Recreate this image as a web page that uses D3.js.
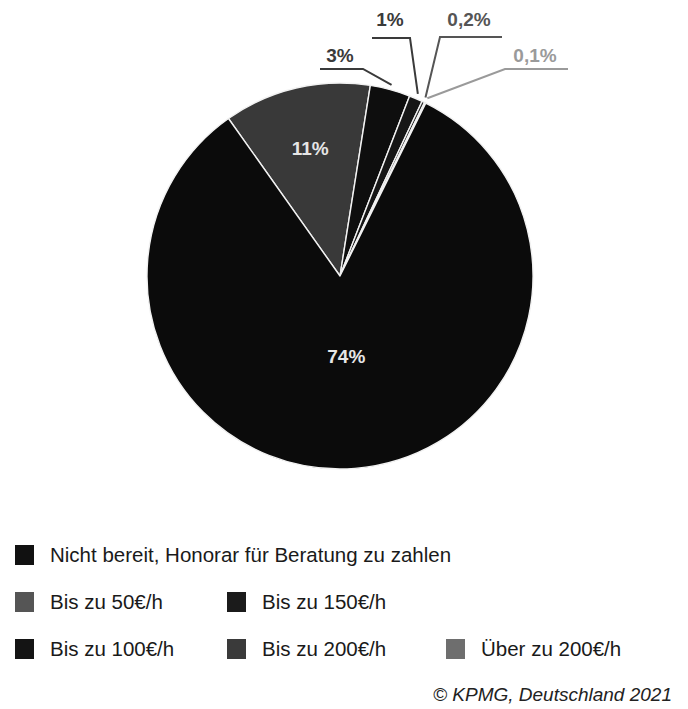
<!DOCTYPE html>
<html>
<head>
<meta charset="utf-8">
<script src="https://cdn.jsdelivr.net/npm/d3@7"></script>
<style>
  html, body { margin: 0; padding: 0; background: #fff; }
  svg { display: block; font-family: "Liberation Sans", Arial, sans-serif; }
</style>
</head>
<body>
<svg id="chart" width="688" height="709"></svg>
<script>
// categories in legend order
const categories = [
    "Nicht bereit, Honorar für Beratung zu zahlen",
    "Bis zu 50€/h",
    "Bis zu 100€/h",
    "Bis zu 150€/h",
    "Bis zu 200€/h",
    "Über zu 200€/h"
];
const values = [74, 11, 3, 1, 0.2, 0.1];
const valueLabels = ["74%", "11%", "3%", "1%", "0,2%", "0,1%"];
// clockwise drawing order, starting at the 11% slice
const pieOrder = [1, 2, 3, 4, 5, 0];

const sliceColors = ["#0b0b0b", "#393939", "#0e0e0e", "#161616", "#2a2a2a", "#8a8a8a"];
const legendColors = ["#111", "#555", "#141414", "#1b1b1b", "#3a3a3a", "#6e6e6e"];
const labelColors = ["#e6e6e6", "#e6e6e6", "#3a3a3a", "#3a3a3a", "#555", "#9a9a9a"];

const svg = d3.select("#chart");
const cx = 340, cy = 276, r = 193;
const a0 = -35.3 * Math.PI / 180;

const data = pieOrder.map(i => ({ i, value: values[i] }));
const pie = d3.pie().sort(null).value(d => d.value)
    .startAngle(a0).endAngle(a0 + 2 * Math.PI);
const arcs = pie(data);
const arc = d3.arc().innerRadius(0).outerRadius(r);

const g = svg.append("g").attr("transform", `translate(${cx},${cy})`);

g.selectAll("path.slice")
    .data(arcs).enter().append("path")
    .attr("class", "slice")
    .attr("d", arc)
    .attr("fill", d => sliceColors[d.data.i])
    .attr("stroke", "#f2f2f2")
    .attr("stroke-width", 1.4)
    .attr("stroke-linejoin", "round");

// inside labels (big slices)
const inner = { 0: 0.42, 1: 0.68 };
arcs.filter(d => inner[d.data.i] !== undefined).forEach(d => {
    const a = (d.startAngle + d.endAngle) / 2;
    const rr = r * inner[d.data.i];
    g.append("text")
        .attr("x", Math.sin(a) * rr)
        .attr("y", -Math.cos(a) * rr)
        .attr("dy", "0.35em")
        .attr("text-anchor", "middle")
        .attr("font-size", 19).attr("font-weight", "bold")
        .attr("fill", labelColors[d.data.i])
        .text(valueLabels[d.data.i]);
});

// outside labels with leader lines: elbow/end relative to centre
const outerLayout = {
    2: { ex: 23, ey: -207, hx: -20, tx: 0, ty: -214 },
    3: { ex: 70, ey: -238, hx: 32, tx: 50, ty: -250 },
    4: { ex: 100, ey: -239, hx: 162, tx: 129, ty: -250 },
    5: { ex: 165, ey: -207, hx: 228, tx: 195, ty: -214 }
};
arcs.filter(d => outerLayout[d.data.i]).forEach(d => {
    const L = outerLayout[d.data.i];
    const a = (d.startAngle + d.endAngle) / 2;
    const rs = r + 5;
    const pts = [[Math.sin(a) * rs, -Math.cos(a) * rs], [L.ex, L.ey], [L.hx, L.ey]];
    g.append("path")
        .attr("d", d3.line()(pts))
        .attr("fill", "none")
        .attr("stroke", labelColors[d.data.i])
        .attr("stroke-width", 2);
    g.append("text")
        .attr("x", L.tx).attr("y", L.ty)
        .attr("text-anchor", "middle")
        .attr("font-size", 19).attr("font-weight", "bold")
        .attr("fill", labelColors[d.data.i])
        .text(valueLabels[d.data.i]);
});

// legend
const legendSlots = [[0, 0], [0, 1], [0, 2], [1, 1], [1, 2], [2, 2]];
const colX = [15, 227, 446], rowY = [545, 592, 639];
const legend = svg.append("g");
categories.forEach((c, i) => {
    const [col, row] = legendSlots[i];
    legend.append("rect")
        .attr("x", colX[col]).attr("y", rowY[row])
        .attr("width", 19).attr("height", 20)
        .attr("fill", legendColors[i]);
    legend.append("text")
        .attr("x", colX[col] + 35).attr("y", rowY[row] + 17)
        .attr("font-size", 20.5).attr("fill", "#1a1a1a")
        .text(c);
});

svg.append("text")
    .attr("x", 672).attr("y", 701)
    .attr("text-anchor", "end")
    .attr("font-size", 19).attr("font-style", "italic")
    .attr("fill", "#222")
    .text("© KPMG, Deutschland 2021");
</script>
</body>
</html>
